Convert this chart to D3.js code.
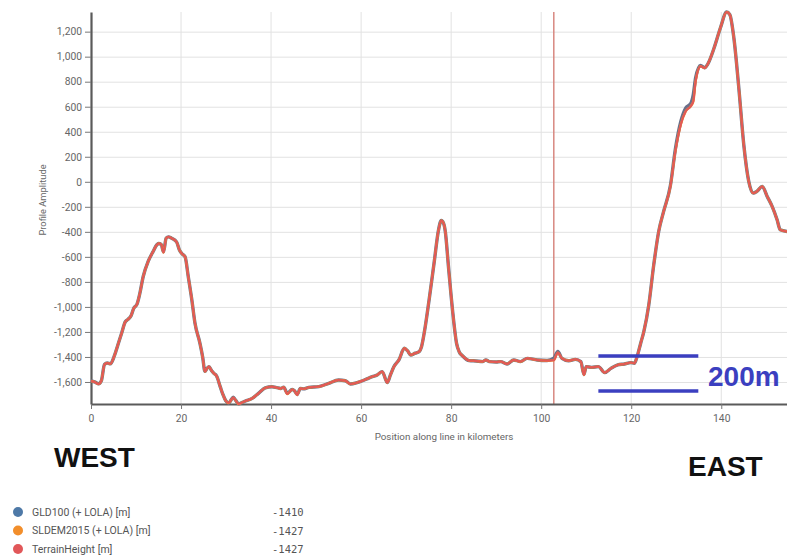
<!DOCTYPE html>
<html>
<head>
<meta charset="utf-8">
<script src="https://cdn.jsdelivr.net/npm/d3@7"></script>
<style>
  html, body { margin: 0; padding: 0; background: #fff; }
  svg { display: block; font-family: Roboto, "Open Sans", sans-serif; }
</style>
</head>
<body>
<svg id="chart" width="787" height="559"></svg>
<script>
// Position along the profile line (km)
const positionKm = [
  0, 0.8, 1.7, 2.3, 3.0, 3.6, 4.3, 5.2, 6.0, 6.8, 7.6, 8.2, 8.9, 9.5, 10.2, 10.8,
  11.6, 12.7, 13.8, 14.6, 15.0, 15.6, 16.1, 16.7, 17.2, 17.9, 19.0, 19.7, 20.2, 20.9,
  21.6, 22.4, 23.1, 24.2, 24.8, 25.3, 25.8, 26.2, 26.8, 27.3, 27.9, 28.7, 29.3, 29.9,
  30.6, 31.1, 31.6, 32.1, 32.8, 33.5, 34.3, 35.8, 37.2, 38.7, 40.2, 41.3, 42.1, 42.8,
  43.6, 44.7, 45.2, 45.8, 46.5, 47.2, 48.4, 50.6, 52.8, 55.0, 56.5, 57.6, 59.1, 60.3,
  61.3, 62.5, 63.5, 64.7, 65.8, 66.5, 67.3, 68.4, 69.6, 70.3, 71.0, 72.0, 72.9, 73.4,
  74.0, 75.1, 76.2, 77.2, 77.8, 78.3, 78.7, 79.4, 80.3, 81.2, 81.8, 82.5, 84.0, 85.5,
  87.0, 87.7, 88.5, 90.0, 91.0, 92.4, 93.9, 95.4, 96.9, 99.1, 101.3, 102.8, 103.7, 104.6,
  106.1, 107.6, 108.8, 109.5, 110.0, 111.2, 112.7, 114.1, 115.5, 117.0, 118.5, 119.9, 120.7, 121.3,
  122.1, 122.8, 123.9, 125.0, 126.1, 127.2, 128.7, 129.8, 131.0, 132.1, 133.2, 133.8, 134.3, 135.4,
  136.3, 137.0, 138.4, 139.8, 141.2, 141.9, 142.8, 143.9, 145.0, 146.1, 147.1, 147.9, 149.1, 150.2,
  151.3, 152.4, 153.1, 154.6
];

// GLD100 (+ LOLA) [m]
const gld100 = [
  -1592, -1600, -1614, -1590, -1460, -1448, -1455, -1390, -1300, -1211, -1120, -1100, -1070, -1010, -980, -900,
  -757, -637, -557, -505, -493, -500, -560, -450, -440, -451, -480, -550, -575, -600,
  -757, -944, -1131, -1291, -1400, -1515, -1490, -1477, -1510, -1531, -1552, -1637, -1700, -1748,
  -1768, -1745, -1722, -1745, -1774, -1765, -1752, -1731, -1691, -1647, -1638, -1645, -1652, -1642,
  -1690, -1660, -1670, -1700, -1652, -1655, -1643, -1637, -1611, -1584, -1590, -1616, -1605, -1590,
  -1575, -1557, -1545, -1517, -1605, -1545, -1477, -1424, -1331, -1350, -1384, -1370, -1357, -1320,
  -1211, -944, -651, -384, -309, -330, -397, -677, -1024, -1291, -1360, -1390, -1429, -1432,
  -1437, -1424, -1437, -1440, -1437, -1456, -1424, -1437, -1411, -1424, -1428, -1410, -1355, -1411,
  -1430, -1419, -1437, -1540, -1477, -1483, -1477, -1525, -1491, -1464, -1456, -1445, -1450, -1397,
  -1290, -1197, -984, -664, -397, -237, -30, 260, 480, 590, 625, 700, 830, 930,
  912, 941, 1069, 1229, 1357, 1336, 1149, 749, 296, 3, -91, -77, -37, -117,
  -197, -304, -384, -397
];

// SLDEM2015 (+ LOLA) [m]
const sldem2015 = [
  -1592, -1600, -1616, -1590, -1460, -1448, -1455, -1390, -1300, -1211, -1120, -1100, -1070, -1010, -980, -900,
  -757, -637, -557, -505, -493, -500, -565, -450, -440, -451, -480, -550, -575, -600,
  -757, -944, -1131, -1291, -1400, -1517, -1490, -1477, -1510, -1531, -1552, -1637, -1700, -1748,
  -1768, -1745, -1725, -1745, -1776, -1765, -1752, -1731, -1691, -1647, -1638, -1645, -1652, -1642,
  -1696, -1660, -1670, -1704, -1652, -1655, -1643, -1637, -1611, -1584, -1590, -1616, -1605, -1590,
  -1575, -1557, -1545, -1517, -1605, -1545, -1477, -1424, -1331, -1350, -1384, -1370, -1357, -1320,
  -1211, -944, -651, -384, -309, -330, -397, -677, -1024, -1291, -1360, -1390, -1429, -1432,
  -1437, -1424, -1437, -1440, -1437, -1456, -1424, -1437, -1411, -1424, -1430, -1427, -1365, -1411,
  -1430, -1419, -1437, -1544, -1477, -1483, -1477, -1525, -1491, -1464, -1456, -1445, -1450, -1397,
  -1290, -1197, -984, -664, -397, -237, -37, 243, 456, 563, 603, 643, 803, 923,
  909, 941, 1069, 1229, 1357, 1336, 1149, 749, 296, 3, -91, -77, -37, -117,
  -197, -304, -384, -397
];

// TerrainHeight [m]
const terrainHeight = [
  -1592, -1600, -1616, -1590, -1460, -1448, -1455, -1390, -1300, -1211, -1120, -1100, -1070, -1010, -980, -900,
  -757, -637, -557, -505, -493, -500, -565, -450, -440, -451, -480, -550, -575, -600,
  -757, -944, -1131, -1291, -1400, -1517, -1490, -1477, -1510, -1531, -1552, -1637, -1700, -1748,
  -1768, -1745, -1725, -1745, -1776, -1765, -1752, -1731, -1691, -1647, -1638, -1645, -1652, -1642,
  -1696, -1660, -1670, -1704, -1652, -1655, -1643, -1637, -1611, -1584, -1590, -1616, -1605, -1590,
  -1575, -1557, -1545, -1517, -1605, -1545, -1477, -1424, -1331, -1350, -1384, -1370, -1357, -1320,
  -1211, -944, -651, -384, -309, -330, -397, -677, -1024, -1291, -1360, -1390, -1429, -1432,
  -1437, -1424, -1437, -1440, -1437, -1456, -1424, -1437, -1411, -1424, -1430, -1427, -1365, -1411,
  -1430, -1419, -1437, -1544, -1477, -1483, -1477, -1525, -1491, -1464, -1456, -1445, -1450, -1397,
  -1290, -1197, -984, -664, -397, -237, -37, 243, 456, 563, 603, 643, 803, 923,
  909, 941, 1069, 1229, 1357, 1336, 1149, 749, 296, 3, -91, -77, -37, -117,
  -197, -304, -384, -397
];

const seriesNames = ["GLD100 (+ LOLA) [m]", "SLDEM2015 (+ LOLA) [m]", "TerrainHeight [m]"];
const seriesColors = ["#4e79a7", "#f28e2b", "#e15759"];
const seriesValues = [gld100, sldem2015, terrainHeight];

// Cursor position and the readout shown in the legend
const cursorKm = 102.8;
const cursorReadout = [-1410, -1427, -1427];

const xTicks = [0, 20, 40, 60, 80, 100, 120, 140];
const yTicks = [-1600, -1400, -1200, -1000, -800, -600, -400, -200, 0, 200, 400, 600, 800, 1000, 1200];

// Scale-bar annotation (levels in m, extent in km)
const scaleBarLevels = [-1392, -1672];
const scaleBarKm = [112.7, 134.9];
const scaleBarLabel = "200m";

const margin = { left: 91, top: 12, right: 0, bottom: 155 };
const W = 787, H = 559;

const svg = d3.select("#chart");
const x = d3.scaleLinear().domain([0, 154.6]).range([margin.left, W - margin.right]);
const allVals = seriesValues.flat();
const y = d3.scaleLinear().domain(d3.extent(allVals)).range([H - margin.bottom, margin.top]);

const loc = d3.formatLocale({ decimal: ".", thousands: ",", grouping: [3], currency: ["$", ""], minus: "-" });
const fmt = loc.format(",");

// Grid lines
const grid = svg.append("g").attr("stroke", "#e2e2e2").attr("stroke-width", 1);
grid.selectAll("line.h").data(yTicks).join("line")
  .attr("x1", margin.left).attr("x2", W)
  .attr("y1", d => y(d) + 0.5).attr("y2", d => y(d) + 0.5);
grid.selectAll("line.v").data(xTicks.slice(1)).join("line")
  .attr("y1", margin.top).attr("y2", y.range()[0])
  .attr("x1", d => x(d)).attr("x2", d => x(d));

// Cursor line
svg.append("line")
  .attr("x1", x(cursorKm)).attr("x2", x(cursorKm))
  .attr("y1", margin.top).attr("y2", y.range()[0])
  .attr("stroke", "#d88880").attr("stroke-width", 1.5);

// Axes
const yAxis = svg.append("g")
  .attr("transform", `translate(${margin.left},0)`)
  .call(d3.axisLeft(y).tickValues(yTicks).tickFormat(fmt).tickSize(6).tickSizeOuter(0).tickPadding(3));
const xAxis = svg.append("g")
  .attr("transform", `translate(0,${y.range()[0]})`)
  .call(d3.axisBottom(x).tickValues(xTicks).tickFormat(fmt).tickSize(5).tickSizeOuter(0).tickPadding(6));

[yAxis, xAxis].forEach(g => {
  g.select(".domain").attr("stroke", "#5a5a5a").attr("stroke-width", 2.2);
  g.selectAll(".tick line").attr("stroke", "#777");
  g.selectAll(".tick text").attr("fill", "#666").style("font-size", "10.3px").style("font-family", "Roboto, sans-serif");
});

// Axis titles
svg.append("text")
  .attr("transform", `translate(46,200) rotate(-90)`)
  .attr("text-anchor", "middle").attr("fill", "#666").style("font-size", "9.3px")
  .text("Profile Amplitude");
svg.append("text")
  .attr("x", 444).attr("y", 440)
  .attr("text-anchor", "middle").attr("fill", "#666").style("font-size", "9.8px")
  .text("Position along line in kilometers");

// Profile lines
const line = d3.line().x((d, i) => x(positionKm[i])).y(d => y(d)).curve(d3.curveMonotoneX);
const widths = [3.4, 2.4, 2.0];
seriesValues.forEach((vals, k) => {
  svg.append("path")
    .datum(vals)
    .attr("fill", "none")
    .attr("stroke", k === 0 ? "#6a6f8a" : seriesColors[k])
    .attr("stroke-width", widths[k])
    .attr("stroke-linejoin", "round")
    .attr("d", line);
});

// Scale bar annotation
svg.append("g").selectAll("line").data(scaleBarLevels).join("line")
  .attr("x1", x(scaleBarKm[0])).attr("x2", x(scaleBarKm[1]))
  .attr("y1", d => y(d)).attr("y2", d => y(d))
  .attr("stroke", "#3b3fc0").attr("stroke-width", 3.5);
svg.append("text")
  .attr("x", 708).attr("y", 386)
  .attr("fill", "#3b3fc0").style("font-family", "'Liberation Sans', Arial, sans-serif")
  .style("font-weight", "bold").style("font-size", "28px")
  .text(scaleBarLabel);

// Direction labels
svg.append("text").attr("x", 54).attr("y", 467)
  .style("font-family", "'Liberation Sans', Arial, sans-serif").style("font-weight", "bold").style("font-size", "28px")
  .attr("fill", "#111").text("WEST");
svg.append("text").attr("x", 688).attr("y", 476)
  .style("font-family", "'Liberation Sans', Arial, sans-serif").style("font-weight", "bold").style("font-size", "28px")
  .attr("fill", "#111").text("EAST");

// Legend with cursor readout
const legend = svg.append("g");
const rows = legend.selectAll("g").data(seriesNames).join("g")
  .attr("transform", (d, i) => `translate(0,${512 + i * 18.5})`);
rows.append("circle").attr("cx", 18).attr("cy", 0).attr("r", 5)
  .attr("fill", (d, i) => seriesColors[i]);
rows.append("text").attr("x", 32).attr("y", 3.5)
  .attr("fill", "#555").style("font-size", "10.5px").text(d => d);
rows.append("text").attr("x", 272).attr("y", 4)
  .attr("fill", "#555").style("font-size", "10.5px").style("font-family", "'DejaVu Sans Mono', monospace")
  .text((d, i) => String(cursorReadout[i]));
</script>
</body>
</html>
